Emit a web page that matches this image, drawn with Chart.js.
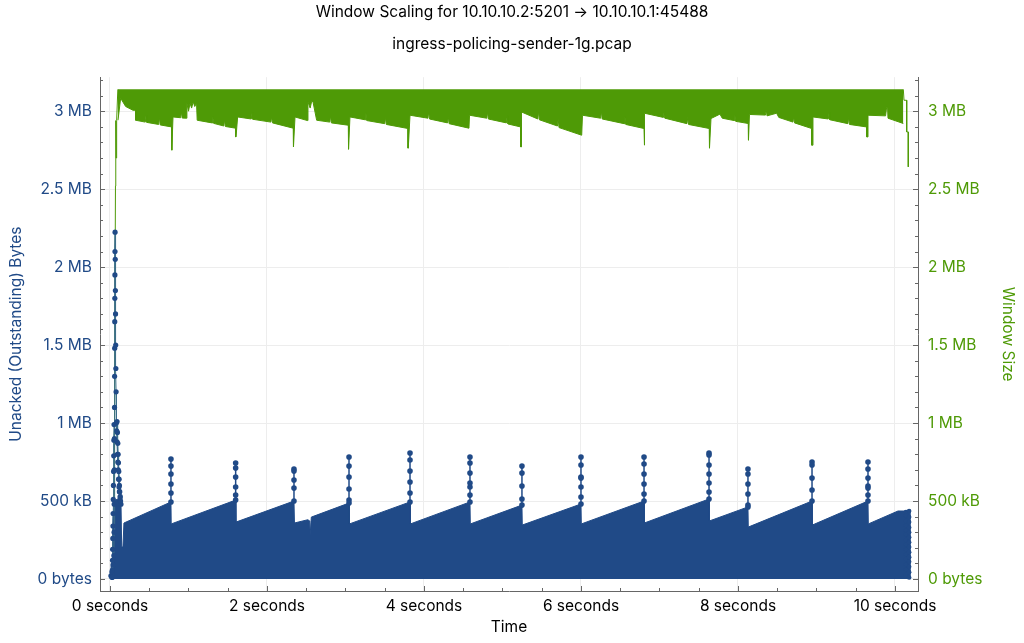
<!DOCTYPE html>
<html>
<head>
<meta charset="utf-8">
<script src="https://cdn.jsdelivr.net/npm/chart.js@4.4.1/dist/chart.umd.min.js"></script>
<style>
  html, body { margin: 0; padding: 0; background: #fff; }
  #wrap { width: 1024px; height: 643px; }
</style>
</head>
<body>
<div id="wrap"><canvas id="scalingChart"></canvas></div>
<script>
// Axis ticks
const timeTicks = [0, 2, 4, 6, 8, 10];
const byteTicks = [0, 500000, 1000000, 1500000, 2000000, 2500000, 3000000];

// Unacked bytes: upper edge of the filled sawtooth (seconds / bytes)
const unackedTimes = [0, 0.01, 0.03, 0.045, 0.13, 0.14, 0.149, 0.165, 0.178, 0.777, 0.78, 1.601, 1.605,
  2.344, 2.35, 2.52, 2.545, 2.55, 2.56, 2.565, 3.045, 3.05, 3.822, 3.826, 4.586, 4.59, 5.248, 5.252,
  6.0, 6.004, 6.803, 6.807, 7.631, 7.635, 8.127, 8.131, 8.943, 8.947, 9.656, 9.66, 10.038, 10.19, 10.19];
const unackedBytes = [0, 60000, 120000, 500000, 520000, 500000, 205000, 205000, 359000, 494000, 353000, 506000, 365000,
  500000, 359000, 380000, 372000, 282000, 282000, 397000, 487000, 353000, 494000, 353000, 494000, 353000, 474000, 346000,
  481000, 353000, 500000, 359000, 513000, 372000, 462000, 333000, 500000, 346000, 500000, 353000, 436000, 436000, 0];

// Dotted spikes above the sawtooth (kB)
const spikeTimes = [0.777, 1.601, 2.344, 3.045, 3.822, 4.586, 5.248, 6.0, 6.803, 7.631, 8.127, 8.943, 9.656];
const spikeDots = [
  [769, 724, 673, 609, 551, 494],
  [744, 712, 654, 590, 538, 506],
  [705, 692, 635, 583, 500],
  [782, 724, 654, 577, 506, 487],
  [808, 763, 692, 622, 551, 494],
  [782, 744, 679, 615, 590, 538, 494],
  [724, 679, 596, 513, 474],
  [782, 731, 654, 647, 590, 526, 481],
  [782, 737, 673, 609, 545, 500],
  [808, 795, 731, 673, 615, 558, 513],
  [705, 673, 609, 545, 474, 462],
  [750, 731, 647, 571, 500],
  [750, 705, 647, 596, 583, 538, 500]
];

// Slow-start burst at the beginning of the capture (null = break in the line)
const burstTimes = [0.012, 0.025, 0.038, 0.05, 0.052, 0.054, 0.056, 0.057, 0.058, 0.059, 0.06, 0.061, 0.062, 0.063,
  0.064, 0.065, 0.067, 0.069, 0.071, 0.073, 0.075, 0.078, 0.08, 0.085, 0.09, 0.095, 0.1, 0.105, 0.11, 0.115, 0.12, 0.13, 0.14,
  0.14,
  0.028, 0.03, 0.032, 0.034, 0.036, 0.038, 0.04, 0.042, 0.044, 0.046, 0.048, 0.05, 0.052,
  0.052,
  0.09, 0.095, 0.1, 0.104, 0.108, 0.112, 0.116, 0.12, 0.125, 0.13, 0.135];
const burstBytes = [20000, 45000, 90000, 150000, 300000, 480000, 700000, 900000, 1100000, 1300000, 1480000, 1650000,
  1800000, 1950000, 2100000, 2224000, 2050000, 1850000, 1700000, 1500000, 1350000, 1200000, 1000000, 950000, 880000,
  800000, 750000, 700000, 640000, 590000, 560000, 520000, 480000,
  null,
  10000, 55000, 120000, 190000, 260000, 340000, 420000, 510000, 600000, 690000, 790000, 890000, 990000,
  null,
  1010000, 940000, 870000, 800000, 745000, 690000, 640000, 600000, 560000, 530000, 500000];

// Dot columns at the end of the transfer
const endTimes = [10.14, 10.14, 10.14, 10.14, 10.14, 10.14, 10.14, 10.14, 10.14, 10.14, 10.14, 10.14, 10.14, 10.14,
  10.18, 10.18, 10.18, 10.18, 10.18, 10.18, 10.18, 10.18, 10.18, 10.18, 10.18, 10.18, 10.18, 10.18];
const endBytes = [430000, 405000, 372000, 344000, 312000, 285000, 250000, 222000, 190000, 158000, 128000, 95000, 62000, 25000,
  436000, 398000, 365000, 330000, 300000, 268000, 236000, 205000, 172000, 140000, 110000, 78000, 44000, 10000];

// Window size: maximum and the lower edge of the oscillation (bytes)
const windowMax = 3140000;
const windowRiseTimes = [0.05, 0.07, 0.072, 0.074, 0.076, 0.078, 0.085, 0.1];
const windowRiseBytes = [65000, 2520000, 2900000, 2560000, 2940000, 2700000, 2940000, 3140000];
const windowLowTimes = [0.102, 0.136, 0.2, 0.293, 0.327, 0.327, 0.45, 0.46, 0.47, 0.62, 0.63, 0.64, 0.786, 0.786, 0.79,
  0.803, 0.9, 0.91, 0.92, 0.977, 0.98, 1.0, 1.02, 1.04, 1.06, 1.08, 1.103, 1.111, 1.3, 1.31, 1.32, 1.45, 1.46, 1.47,
  1.601, 1.601, 1.606, 1.626, 1.8, 1.81, 1.82, 2.05, 2.06, 2.07, 2.335, 2.335, 2.34, 2.357, 2.515, 2.522, 2.55, 2.57,
  2.586, 2.633, 2.8, 2.81, 2.82, 3.036, 3.036, 3.042, 3.057, 3.25, 3.26, 3.27, 3.5, 3.51, 3.52, 3.796, 3.796, 3.8, 3.822,
  4.05, 4.06, 4.07, 4.3, 4.31, 4.32, 4.573, 4.58, 4.8, 4.81, 4.82, 5.05, 5.06, 5.07, 5.232, 5.232, 5.237, 5.242, 5.45,
  5.46, 5.47, 5.7, 5.71, 5.72, 6.009, 6.019, 6.25, 6.26, 6.27, 6.55, 6.56, 6.57, 6.803, 6.803, 6.808, 6.815, 7.05, 7.06,
  7.07, 7.35, 7.36, 7.37, 7.634, 7.634, 7.64, 7.656, 7.77, 7.8, 7.95, 7.96, 7.97, 8.131, 8.131, 8.136, 8.146, 8.35, 8.36,
  8.37, 8.492, 8.52, 8.7, 8.71, 8.72, 8.939, 8.939, 8.944, 8.955, 9.15, 9.16, 9.17, 9.4, 9.41, 9.42, 9.639, 9.639, 9.644,
  9.656, 9.88, 9.894, 9.905, 9.911, 10.106];
const windowLowBytes = [2942000, 3083000, 3030000, 3006000, 3006000, 2942000, 2930000, 2975000, 2928000, 2915000,
  2960000, 2912000, 2899000, 2750000, 2750000, 2963000, 2958000, 2995000, 2956000, 2955000, 3051000, 3000000, 3050000,
  3020000, 3060000, 3030000, 3051000, 2942000, 2925000, 2965000, 2922000, 2905000, 2945000, 2902000, 2891000, 2835000,
  2835000, 2963000, 2950000, 2990000, 2948000, 2930000, 2965000, 2925000, 2891000, 2771000, 2771000, 2963000, 2940000,
  3060000, 3020000, 3065000, 3060000, 2942000, 2930000, 2970000, 2925000, 2910000, 2756000, 2756000, 2963000, 2945000,
  2990000, 2940000, 2920000, 2960000, 2915000, 2889000, 2763000, 2763000, 2974000, 2955000, 2995000, 2950000, 2925000,
  2965000, 2920000, 2891000, 2974000, 2955000, 2995000, 2950000, 2925000, 2970000, 2918000, 2899000, 2771000, 2771000,
  2995000, 2950000, 3000000, 2945000, 2905000, 2950000, 2895000, 2846000, 2974000, 2955000, 3000000, 2950000, 2920000,
  2965000, 2915000, 2889000, 2782000, 2782000, 2987000, 2960000, 3000000, 2955000, 2920000, 2960000, 2915000, 2889000,
  2763000, 2763000, 2953000, 2981000, 2955000, 2940000, 2975000, 2935000, 2921000, 2814000, 2814000, 2979000, 2975000,
  3010000, 2970000, 2987000, 2960000, 2930000, 2965000, 2925000, 2889000, 2782000, 2782000, 2963000, 2950000, 2990000,
  2945000, 2920000, 2960000, 2915000, 2899000, 2835000, 2835000, 2974000, 2970000, 3027000, 3027000, 2955000, 2921000];
const windowTailTimes = [10.106, 10.115, 10.149, 10.149, 10.169, 10.169];
const windowTailBytes = [3140000, 3070000, 3070000, 2867000, 2867000, 2643000];

const blue = "#204a87";
const green = "#4e9a06";
const axisColor = "#666666";
const fontFamily = "Inter, 'Open Sans', sans-serif";

const toPoints = (xs, ys) => xs.map((x, i) => ({ x: x, y: ys[i] }));

// stems: one column of dots per spike, separated by gaps
const stemPoints = [];
spikeTimes.forEach((t, i) => {
  spikeDots[i].forEach((kb) => stemPoints.push({ x: t, y: kb * 1000 }));
  stemPoints.push({ x: t, y: null });
});

function formatBytes(v) {
  if (v === 0) return "0 bytes";
  if (v < 1000000) return v / 1000 + " kB";
  return v / 1000000 + " MB";
}

// inward major/minor ticks, like the original plot
const inwardTicks = {
  id: "inwardTicks",
  afterDraw(chart) {
    const { ctx, chartArea, scales } = chart;
    ctx.save();
    ctx.strokeStyle = axisColor;
    ctx.lineWidth = 1;
    ctx.beginPath();
    for (let i = 0; i <= 20; i++) {
      const px = Math.round(scales.x.getPixelForValue(i * 0.5)) + 0.5;
      const len = i % 4 === 0 ? 5 : 3;
      ctx.moveTo(px, chartArea.bottom);
      ctx.lineTo(px, chartArea.bottom - len);
    }
    for (let i = 0; i <= 32; i++) {
      const py = Math.round(scales.y.getPixelForValue(i * 100000)) + 0.5;
      const len = i % 5 === 0 ? 5 : 3;
      ctx.moveTo(chartArea.left, py);
      ctx.lineTo(chartArea.left + len, py);
      ctx.moveTo(chartArea.right, py);
      ctx.lineTo(chartArea.right - len, py);
    }
    ctx.stroke();
    ctx.restore();
  },
};

const yMin = -77000;
const yMax = 3218000;

const ctx = document.getElementById("scalingChart").getContext("2d");
new Chart(ctx, {
  type: "line",
  data: {
    datasets: [
      {
        label: "Spikes",
        data: stemPoints,
        yAxisID: "y",
        borderColor: blue,
        borderWidth: 1.5,
        pointRadius: 2.8,
        pointBackgroundColor: blue,
        pointBorderWidth: 0,
        spanGaps: false,
      },
      {
        label: "Burst",
        data: toPoints(burstTimes, burstBytes),
        yAxisID: "y",
        borderColor: "#3c6e8a",
        borderWidth: 1,
        pointRadius: 2.6,
        pointBackgroundColor: blue,
        pointBorderWidth: 0,
        spanGaps: false,
      },
      {
        label: "End",
        data: toPoints(endTimes, endBytes),
        yAxisID: "y",
        showLine: false,
        pointRadius: 2.3,
        pointBackgroundColor: blue,
        pointBorderWidth: 0,
      },
      {
        label: "Unacked (Outstanding) Bytes",
        data: toPoints(unackedTimes, unackedBytes),
        yAxisID: "y",
        borderColor: blue,
        borderWidth: 1,
        backgroundColor: blue,
        fill: "origin",
        pointRadius: 0,
      },
      {
        label: "Window rise",
        data: toPoints(windowRiseTimes, windowRiseBytes),
        yAxisID: "y2",
        borderColor: green,
        borderWidth: 1,
        pointRadius: 0,
      },
      {
        label: "Window Size",
        data: toPoints(windowLowTimes, windowLowBytes),
        yAxisID: "y2",
        borderColor: green,
        borderWidth: 1,
        backgroundColor: green,
        fill: { value: windowMax },
        pointRadius: 0,
      },
      {
        label: "Window tail",
        data: toPoints(windowTailTimes, windowTailBytes),
        yAxisID: "y2",
        borderColor: green,
        borderWidth: 1,
        pointRadius: 0,
      },
    ],
  },
  options: {
    responsive: true,
    maintainAspectRatio: false,
    animation: false,
    elements: { line: { tension: 0 } },
    plugins: {
      legend: { display: false },
      tooltip: { enabled: false },
      title: {
        display: true,
        text: "Window Scaling for 10.10.10.2:5201 \u2192 10.10.10.1:45488",
        color: "#000",
        font: { family: fontFamily, size: 15.5, weight: "normal" },
        padding: { top: 3, bottom: 13 },
      },
      subtitle: {
        display: true,
        text: "ingress-policing-sender-1g.pcap",
        color: "#000",
        font: { family: fontFamily, size: 15.5, weight: "normal" },
        padding: { top: 0, bottom: 24 },
      },
    },
    scales: {
      x: {
        type: "linear",
        min: -0.127,
        max: 10.293,
        afterBuildTicks: (scale) => { scale.ticks = timeTicks.map((v) => ({ value: v })); },
        afterFit: (scale) => { scale.height = 52; },
        grid: { color: "#ededed", drawTicks: false },
        border: { display: true, color: axisColor },
        ticks: {
          color: "#000",
          padding: 6,
          maxRotation: 0,
          font: { family: fontFamily, size: 15.5 },
          callback: (v) => v + " seconds",
        },
        title: {
          display: true,
          text: "Time",
          color: "#000",
          font: { family: fontFamily, size: 15.5 },
          padding: { top: 0, bottom: 6 },
        },
      },
      y: {
        type: "linear",
        position: "left",
        min: yMin,
        max: yMax,
        afterBuildTicks: (scale) => { scale.ticks = byteTicks.map((v) => ({ value: v })); },
        afterFit: (scale) => { scale.width = 100; },
        grid: { color: "#ededed", drawTicks: false },
        border: { display: true, color: axisColor },
        ticks: {
          color: blue,
          padding: 8,
          font: { family: fontFamily, size: 15.5 },
          callback: formatBytes,
        },
        title: {
          display: true,
          text: "Unacked (Outstanding) Bytes",
          color: blue,
          font: { family: fontFamily, size: 15.5 },
          padding: { top: 7, bottom: 0 },
        },
      },
      y2: {
        type: "linear",
        position: "right",
        min: yMin,
        max: yMax,
        afterBuildTicks: (scale) => { scale.ticks = byteTicks.map((v) => ({ value: v })); },
        afterFit: (scale) => { scale.width = 106; },
        grid: { display: false, drawTicks: false },
        border: { display: true, color: axisColor },
        ticks: {
          color: green,
          padding: 10,
          font: { family: fontFamily, size: 15.5 },
          callback: formatBytes,
        },
        title: {
          display: true,
          text: "Window Size",
          color: green,
          font: { family: fontFamily, size: 15.5 },
          padding: { top: 7, bottom: 0 },
        },
      },
    },
  },
  plugins: [inwardTicks],
});
</script>
</body>
</html>
